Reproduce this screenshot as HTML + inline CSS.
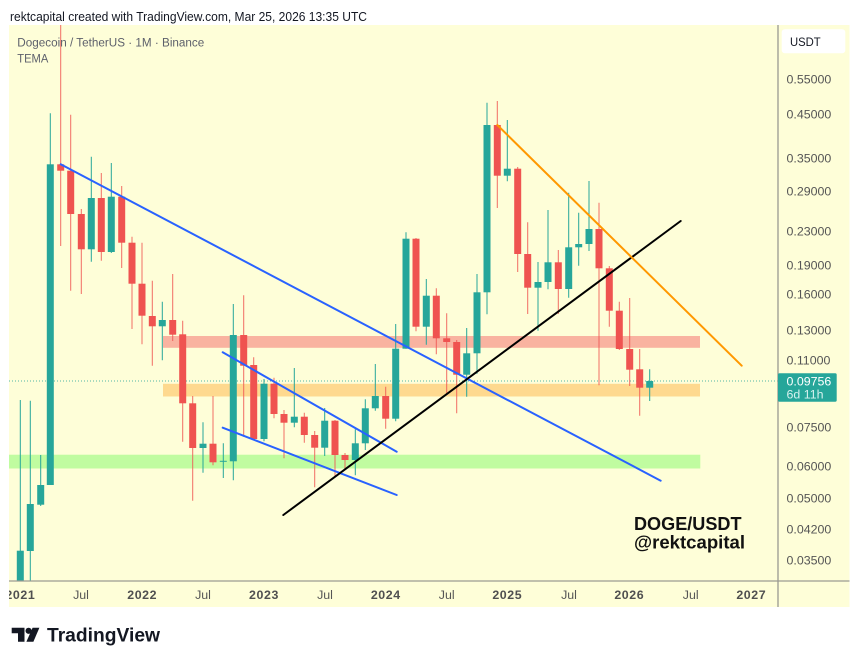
<!DOCTYPE html>
<html><head><meta charset="utf-8"><style>
html,body{margin:0;padding:0;background:#fff;width:859px;height:664px;overflow:hidden}
svg{display:block}
text{font-family:"Liberation Sans",Arial,sans-serif}
</style></head><body>
<svg width="859" height="664" viewBox="0 0 859 664" xmlns="http://www.w3.org/2000/svg">
<rect width="859" height="664" fill="#ffffff"/>
<text x="10" y="21" font-size="12.5" fill="#131722" textLength="357" lengthAdjust="spacingAndGlyphs">rektcapital created with TradingView.com, Mar 25, 2026 13:35 UTC</text>
<rect x="9" y="25" width="840.5" height="582" fill="#fefed8"/>
<defs><clipPath id="c"><rect x="9" y="25" width="769" height="556"/></clipPath></defs>
<g clip-path="url(#c)">
<rect x="8" y="454.7" width="692.3" height="13.8" fill="#c0fca0"/>
<rect x="163" y="336" width="537" height="11.8" fill="#f9b3a0"/>
<rect x="163" y="383.8" width="537" height="12.7" fill="#fed98f"/>
<line x1="9" y1="381" x2="778" y2="381" stroke="#26a69a" stroke-width="1" stroke-dasharray="1 2" opacity="0.8"/>
<path stroke="#26a69a" stroke-width="1" fill="none" d="M20.3 400V581M30.3 400.7V581M40.7 455V506M50.3 113.3V485M91.3 156.7V261.7M111.3 163V253M162.3 301.7V360.3M203 422.3V472.7M223.3 443.3V478M233.3 304V480.3M264 379V441.3M294.3 368V427.3M324.7 408V456M355.3 429.3V475.3M365.3 399.3V450M375.3 364V410.7M395.7 324V421.3M406 232.3V348.7M426.3 279V344.7M466.7 328V396.7M477 274V373.7M487 102.7V314.3M507.3 120V181.3M538 262V330.7M548 210V289.3M568.7 192.7V297.7M578.7 212.7V265.7M589 181V251M649.7 369.3V401"/>
<path stroke="#ef5350" stroke-width="1" fill="none" opacity="0.85" d="M60.7 25V246M70.7 114.7V290.7M81.3 209V294M101.3 173V260.7M121.7 186V268M132 236.7V329M142 242.7V344.3M152.3 280.7V365.7M172.7 274V341M182.7 320.7V441.7M192.7 396V500.7M213 396V465.3M243.7 295.3V436.7M253.7 357.3V440M274 377.7V418.3M284 410V458.3M304.3 412.7V442.7M314.7 431V487.3M335 420V476.7M345 453V469M385.7 386.7V428.7M416 238V331.3M436.3 288.3V354.3M446.7 313.3V393.3M456.7 340V413.3M497.3 101V208M517.7 167V272M527.7 222.3V314M558.3 250V314M599 202.7V385.3M609.3 266V326.7M619.3 301.7V350M629.7 298V386M639.7 349V415.7"/>
<g fill="#26a69a">
<rect x="16.8" y="550.7" width="7" height="30.3"/>
<rect x="26.8" y="504" width="7" height="47"/>
<rect x="37.2" y="485" width="7" height="19.7"/>
<rect x="46.8" y="164.3" width="7" height="320.7"/>
<rect x="87.8" y="198" width="7" height="51.3"/>
<rect x="107.8" y="196.7" width="7" height="55.3"/>
<rect x="158.8" y="320" width="7" height="6.3"/>
<rect x="199.5" y="443.7" width="7" height="4.3"/>
<rect x="219.8" y="460.8" width="7" height="1"/>
<rect x="229.8" y="335" width="7" height="126.3"/>
<rect x="260.5" y="383.7" width="7" height="55.3"/>
<rect x="290.8" y="416.7" width="7" height="6"/>
<rect x="321.2" y="420.7" width="7" height="27"/>
<rect x="351.8" y="443.3" width="7" height="16.7"/>
<rect x="361.8" y="408.3" width="7" height="35"/>
<rect x="371.8" y="396" width="7" height="12.3"/>
<rect x="392.2" y="348.7" width="7" height="70"/>
<rect x="402.5" y="238.7" width="7" height="110"/>
<rect x="422.8" y="295.7" width="7" height="31"/>
<rect x="463.2" y="353.3" width="7" height="21.4"/>
<rect x="473.5" y="292.3" width="7" height="61"/>
<rect x="483.5" y="125" width="7" height="167.3"/>
<rect x="503.8" y="168.7" width="7" height="7"/>
<rect x="534.5" y="282" width="7" height="5.7"/>
<rect x="544.5" y="262.3" width="7" height="19.7"/>
<rect x="565.2" y="247.3" width="7" height="41.7"/>
<rect x="575.2" y="244" width="7" height="3.3"/>
<rect x="585.5" y="229" width="7" height="15"/>
<rect x="646.2" y="381" width="7" height="6.7"/>
</g>
<g fill="#ef5350">
<rect x="57.2" y="164.3" width="7" height="6.4"/>
<rect x="67.2" y="170.7" width="7" height="43.3"/>
<rect x="77.8" y="214" width="7" height="35.3"/>
<rect x="97.8" y="198" width="7" height="54"/>
<rect x="118.2" y="196.7" width="7" height="46"/>
<rect x="128.5" y="242.7" width="7" height="41"/>
<rect x="138.5" y="283.7" width="7" height="32"/>
<rect x="148.8" y="316" width="7" height="10.3"/>
<rect x="169.2" y="320" width="7" height="14.7"/>
<rect x="179.2" y="334.3" width="7" height="69"/>
<rect x="189.2" y="403.3" width="7" height="44.7"/>
<rect x="209.5" y="443.7" width="7" height="18.6"/>
<rect x="240.2" y="335" width="7" height="30.7"/>
<rect x="250.2" y="365" width="7" height="74"/>
<rect x="270.5" y="383.7" width="7" height="30.3"/>
<rect x="280.5" y="414" width="7" height="8.7"/>
<rect x="300.8" y="416.7" width="7" height="18.3"/>
<rect x="311.2" y="435" width="7" height="12.7"/>
<rect x="331.5" y="420.7" width="7" height="34.3"/>
<rect x="341.5" y="455" width="7" height="5"/>
<rect x="382.2" y="396" width="7" height="22.7"/>
<rect x="412.5" y="238.7" width="7" height="88"/>
<rect x="432.8" y="295.7" width="7" height="42.6"/>
<rect x="443.2" y="338.3" width="7" height="3.7"/>
<rect x="453.2" y="342" width="7" height="32.7"/>
<rect x="493.8" y="125" width="7" height="50.7"/>
<rect x="514.2" y="168.7" width="7" height="85.3"/>
<rect x="524.2" y="254" width="7" height="33.7"/>
<rect x="554.8" y="262.3" width="7" height="26.7"/>
<rect x="595.5" y="229" width="7" height="39.3"/>
<rect x="605.8" y="268.3" width="7" height="42.4"/>
<rect x="615.8" y="310.7" width="7" height="38.3"/>
<rect x="626.2" y="349" width="7" height="20.7"/>
<rect x="636.2" y="369.3" width="7" height="18.4"/>
</g>
<g stroke-width="2" stroke-linecap="round" fill="none">
<line x1="60.7" y1="164.3" x2="660.7" y2="480.7" stroke="#2962ff"/>
<line x1="222.7" y1="352.3" x2="396.7" y2="451.7" stroke="#2962ff"/>
<line x1="222.7" y1="427.7" x2="396.7" y2="495" stroke="#2962ff"/>
<line x1="283.3" y1="515" x2="680.7" y2="221" stroke="#000000"/>
<line x1="497.3" y1="125" x2="741.7" y2="365.7" stroke="#ff9800"/>
</g>
<text x="634" y="530" font-size="18.5" font-weight="bold" fill="#111" textLength="107.5" lengthAdjust="spacingAndGlyphs">DOGE/USDT</text>
<text x="634" y="548.5" font-size="18.5" font-weight="bold" fill="#111" textLength="111" lengthAdjust="spacingAndGlyphs">@rektcapital</text>
</g>
<text x="17.3" y="46.3" font-size="11.5" fill="#5d606b" textLength="187" lengthAdjust="spacingAndGlyphs">Dogecoin / TetherUS · 1M · Binance</text>
<text x="17.3" y="62.3" font-size="11.5" fill="#5d606b" textLength="31" lengthAdjust="spacingAndGlyphs">TEMA</text>
<line x1="778" y1="25" x2="778" y2="607" stroke="#9a9a92" stroke-width="1.3"/>
<line x1="9" y1="581" x2="849.5" y2="581" stroke="#9a9a92" stroke-width="1.3"/>
<rect x="781.7" y="29.3" width="63.6" height="24" rx="3" fill="#ffffff"/>
<text x="790" y="45.8" font-size="11.5" fill="#131722" textLength="30.7" lengthAdjust="spacingAndGlyphs">USDT</text>
<g font-size="12.4" fill="#555555">
<text x="786.5" y="83.4">0.55000</text>
<text x="786.5" y="118.4">0.45000</text>
<text x="786.5" y="162.4">0.35000</text>
<text x="786.5" y="195.4">0.29000</text>
<text x="786.5" y="235.4">0.23000</text>
<text x="786.5" y="269.4">0.19000</text>
<text x="786.5" y="298.4">0.16000</text>
<text x="786.5" y="334.4">0.13000</text>
<text x="786.5" y="364.4">0.11000</text>
<text x="786.5" y="431.4">0.07500</text>
<text x="786.5" y="470.4">0.06000</text>
<text x="786.5" y="502.4">0.05000</text>
<text x="786.5" y="533.4">0.04200</text>
<text x="786.5" y="564.4">0.03500</text>
</g>
<rect x="778" y="373.3" width="58.7" height="28.4" rx="1.5" fill="#26a69a"/>
<text x="786.5" y="385.4" font-size="12.4" fill="#ffffff">0.09756</text>
<text x="786.5" y="398.6" font-size="12.4" fill="#d6f1ee">6d 11h</text>
<g font-size="12.4" fill="#555555" text-anchor="middle">
<text x="81" y="599">Jul</text>
<text x="203" y="599">Jul</text>
<text x="325" y="599">Jul</text>
<text x="446.7" y="599">Jul</text>
<text x="569" y="599">Jul</text>
<text x="690.7" y="599">Jul</text>
</g>
<svg x="9" y="581" width="769" height="26" overflow="hidden">
<g font-size="12.4" font-weight="bold" fill="#505050" text-anchor="middle" letter-spacing="0.6">
<text x="11.4" y="18.2">2021</text>
<text x="133.2" y="18.2">2022</text>
<text x="255" y="18.2">2023</text>
<text x="376.8" y="18.2">2024</text>
<text x="498.3" y="18.2">2025</text>
<text x="620.3" y="18.2">2026</text>
<text x="742.3" y="18.2">2027</text>
</g>
</svg>
<g fill="#131722">
<path d="M11.7 627.7H24.5V641.7H18V633.2H11.7Z"/>
<circle cx="28.6" cy="630.8" r="3.1"/>
<path d="M32.6 627.7H39.4L33.4 641.7H26.4Z"/>
</g>
<text x="47" y="641.7" font-size="19" font-weight="bold" fill="#131722" textLength="113" lengthAdjust="spacingAndGlyphs">TradingView</text>
</svg>
</body></html>
